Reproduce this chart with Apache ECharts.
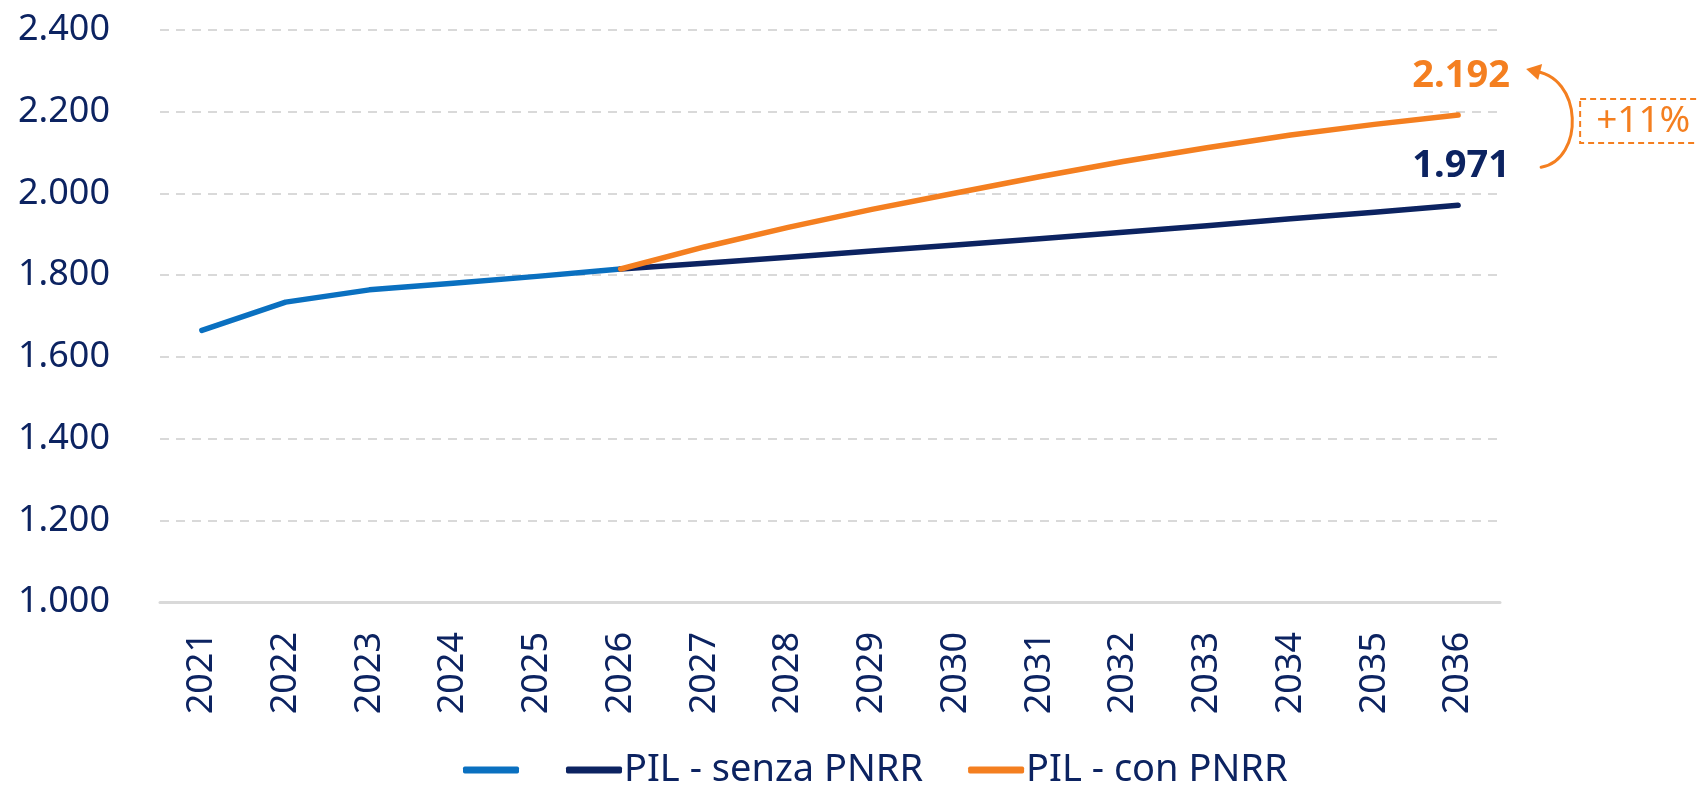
<!DOCTYPE html>
<html lang="it">
<head>
    <meta charset="UTF-8">
    <script src="https://cdn.jsdelivr.net/npm/echarts@6/dist/echarts.min.js"></script>
    <title>PIL con e senza PNRR</title>
    <style>
        body { margin: 0; background: #fff; }
    </style>
</head>
<body>
<div id="main" style="width: 1698px;height:786px;"></div>
<script type="text/javascript">
    // dati
    var anni = ['2021', '2022', '2023', '2024', '2025', '2026', '2027', '2028',
        '2029', '2030', '2031', '2032', '2033', '2034', '2035', '2036'];
    var pilStorico = [1665, 1734, 1764, 1780, 1797, 1815, null, null, null, null, null, null, null, null, null, null];
    var pilSenza = [null, null, null, null, null, 1815, 1829, 1844, 1859, 1874, 1889, 1905, 1921, 1938, 1954, 1971];
    var pilCon = [null, null, null, null, null, 1815, 1869, 1917, 1961, 2001, 2041, 2078, 2112, 2143, 2169, 2192];
    var yTicks = [1000, 1200, 1400, 1600, 1800, 2000, 2200, 2400];
    var deltaTesto = '+11%';

    var navy = '#0c2361';
    var arancio = '#f47f20';
    var blu = '#0a70c0';
    var font = 'Noto Sans';

    function fmt(v) {
        return String(v).replace(/\B(?=(\d{3})+(?!\d))/g, '.');
    }

    function lastLabel(color) {
        return {
            show: true,
            position: 'top',
            distance: 20,
            offset: [3, 0],
            color: color,
            fontFamily: font,
            fontWeight: 'bold',
            fontSize: 38,
            formatter: function (p) {
                return p.dataIndex === anni.length - 1 ? fmt(p.value) : '';
            }
        };
    }

    var myChart = echarts.init(document.getElementById('main'));

    var option = {
        animation: false,
        grid: { left: 160, right: 198, top: 30, bottom: 184 },
        legend: {
            top: 746,
            left: 458,
            itemWidth: 56,
            itemHeight: 7,
            itemGap: 45,
            icon: 'roundRect',
            textStyle: { color: navy, fontFamily: font, fontSize: 38, padding: [0, 0, 0, -3] },
            data: ['\u200b', 'PIL - senza PNRR', 'PIL - con PNRR']
        },
        xAxis: {
            type: 'category',
            data: anni,
            boundaryGap: true,
            axisLine: { lineStyle: { color: '#d9d9d9', width: 3 } },
            axisTick: { show: false },
            axisLabel: { rotate: 90, margin: 30, color: navy, fontFamily: font, fontSize: 36 },
            splitLine: { show: false }
        },
        yAxis: {
            type: 'value',
            min: yTicks[0],
            max: yTicks[yTicks.length - 1],
            interval: yTicks[1] - yTicks[0],
            axisLine: { show: false },
            axisTick: { show: false },
            axisLabel: { margin: 50, color: navy, fontFamily: font, fontSize: 36, formatter: fmt },
            splitLine: { lineStyle: { color: '#d9d9d9', width: 2, type: [9, 7] } }
        },
        series: [{
            name: '\u200b',
            type: 'line',
            data: pilStorico,
            symbol: 'none',
            color: blu,
            lineStyle: { width: 5.5, cap: 'round', join: 'round' }
        }, {
            name: 'PIL - senza PNRR',
            type: 'line',
            data: pilSenza,
            symbol: 'circle',
            symbolSize: 0.1,
            showSymbol: true,
            color: navy,
            lineStyle: { width: 5.5, cap: 'round', join: 'round' },
            label: lastLabel(navy)
        }, {
            name: 'PIL - con PNRR',
            type: 'line',
            data: pilCon,
            symbol: 'circle',
            symbolSize: 0.1,
            showSymbol: true,
            color: arancio,
            lineStyle: { width: 5.5, cap: 'round', join: 'round' },
            label: lastLabel(arancio)
        }]
    };

    myChart.setOption(option);

    // freccia e riquadro "+11%" ancorati agli ultimi punti
    var n = anni.length - 1;
    var pCon = myChart.convertToPixel({ seriesIndex: 2 }, [n, pilCon[n]]);
    var pSenza = myChart.convertToPixel({ seriesIndex: 1 }, [n, pilSenza[n]]);
    var ax = pCon[0] + 68, ay = pCon[1] - 46;      // punta della freccia
    var tx = pSenza[0] + 83, ty = pSenza[1] - 38;  // coda della freccia

    myChart.setOption({
        graphic: [{
            type: 'bezierCurve',
            shape: {
                x1: tx, y1: ty,
                cpx1: tx + 43, cpy1: ty - 7,
                cpx2: tx + 43, cpy2: ay + 6,
                x2: ax + 6, y2: ay + 2
            },
            style: { stroke: arancio, lineWidth: 3, fill: null, lineCap: 'round' }
        }, {
            type: 'polygon',
            shape: { points: [[ax, ay], [ax + 16, ay - 5], [ax + 12, ay + 11]] },
            style: { fill: arancio }
        }, {
            type: 'rect',
            shape: { x: ax + 54, y: ay + 30, width: 130, height: 44 },
            style: { fill: '#fff', stroke: arancio, lineWidth: 2, lineDash: [6, 4] }
        }, {
            type: 'text',
            x: ax + 70, y: ay + 52,
            style: {
                text: deltaTesto,
                fill: arancio,
                fontFamily: font,
                fontSize: 37,
                verticalAlign: 'middle'
            }
        }]
    });
</script>
</body>
</html>
